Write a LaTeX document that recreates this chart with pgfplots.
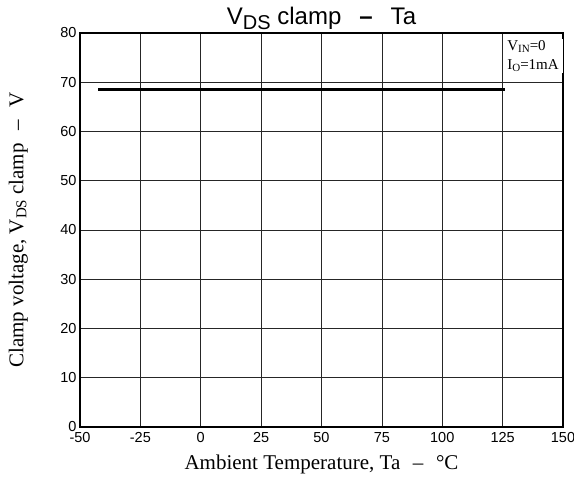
\documentclass[border=0pt]{standalone}
\usepackage{fontspec}
\setmainfont{Liberation Serif}
\setsansfont{Liberation Sans}
\usepackage{pgfplots}
\pgfplotsset{compat=1.18}

\newcommand{\sub}[1]{{\fontsize{15}{15}\selectfont\raisebox{-3pt}{#1}}}
\newcommand{\lsub}[1]{{\fontsize{11}{11}\selectfont\raisebox{-2pt}{#1}}}

\begin{document}
\begin{tikzpicture}[x=1pt,y=1pt]
\useasboundingbox (-80,-52) rectangle (494,427);
\begin{axis}[
    scale only axis,
    width=483pt, height=394pt,
    at={(0,0)}, anchor=south west,
    xmin=-50, xmax=150, ymin=0, ymax=80,
    xtick={-50,-25,...,150},
    ytick={0,10,...,80},
    grid=major,
    major grid style={black!85, line width=0.6pt},
    major tick length=0pt,
    axis line style={black, line width=1.2pt},
    /pgf/number format/assume math mode=true,
    tick label style={font=\sffamily\fontsize{14.5}{14.5}\selectfont, black},
    xticklabel style={yshift=-1.5pt},
    title={\sffamily\fontsize{24}{24}\selectfont V{\fontsize{20}{20}\selectfont\raisebox{-4.5pt}{DS}} clamp\hspace{0.75em}\textbf{--}\hspace{0.75em}Ta},
    title style={at={(0.5,1)}, anchor=base, yshift=2.5pt},
    xlabel={Ambient Temperature, Ta\hspace{0.6em}--\hspace{0.6em}\textdegree C},
    xlabel style={font=\fontsize{21}{21}\selectfont, at={(axis description cs:0.5,-0.109)}, anchor=base},
    ylabel={Clamp voltage, V\sub{DS} clamp\hspace{0.6em}--\hspace{0.6em}V},
    ylabel style={font=\fontsize{21}{21}\selectfont, at={(axis description cs:-0.117,0.5)}, anchor=base},
]
\addplot[black, line width=2.5pt] coordinates {(-42.5,68.5) (126,68.5)};
\node[fill=white, anchor=north west, align=left, inner xsep=4.5pt, inner ysep=1.5pt, font=\fontsize{15}{19}\selectfont]
    at (axis cs:125,78.8) {V\lsub{IN}=0\\I\lsub{O}=1mA};
\end{axis}
\end{tikzpicture}
\end{document}
